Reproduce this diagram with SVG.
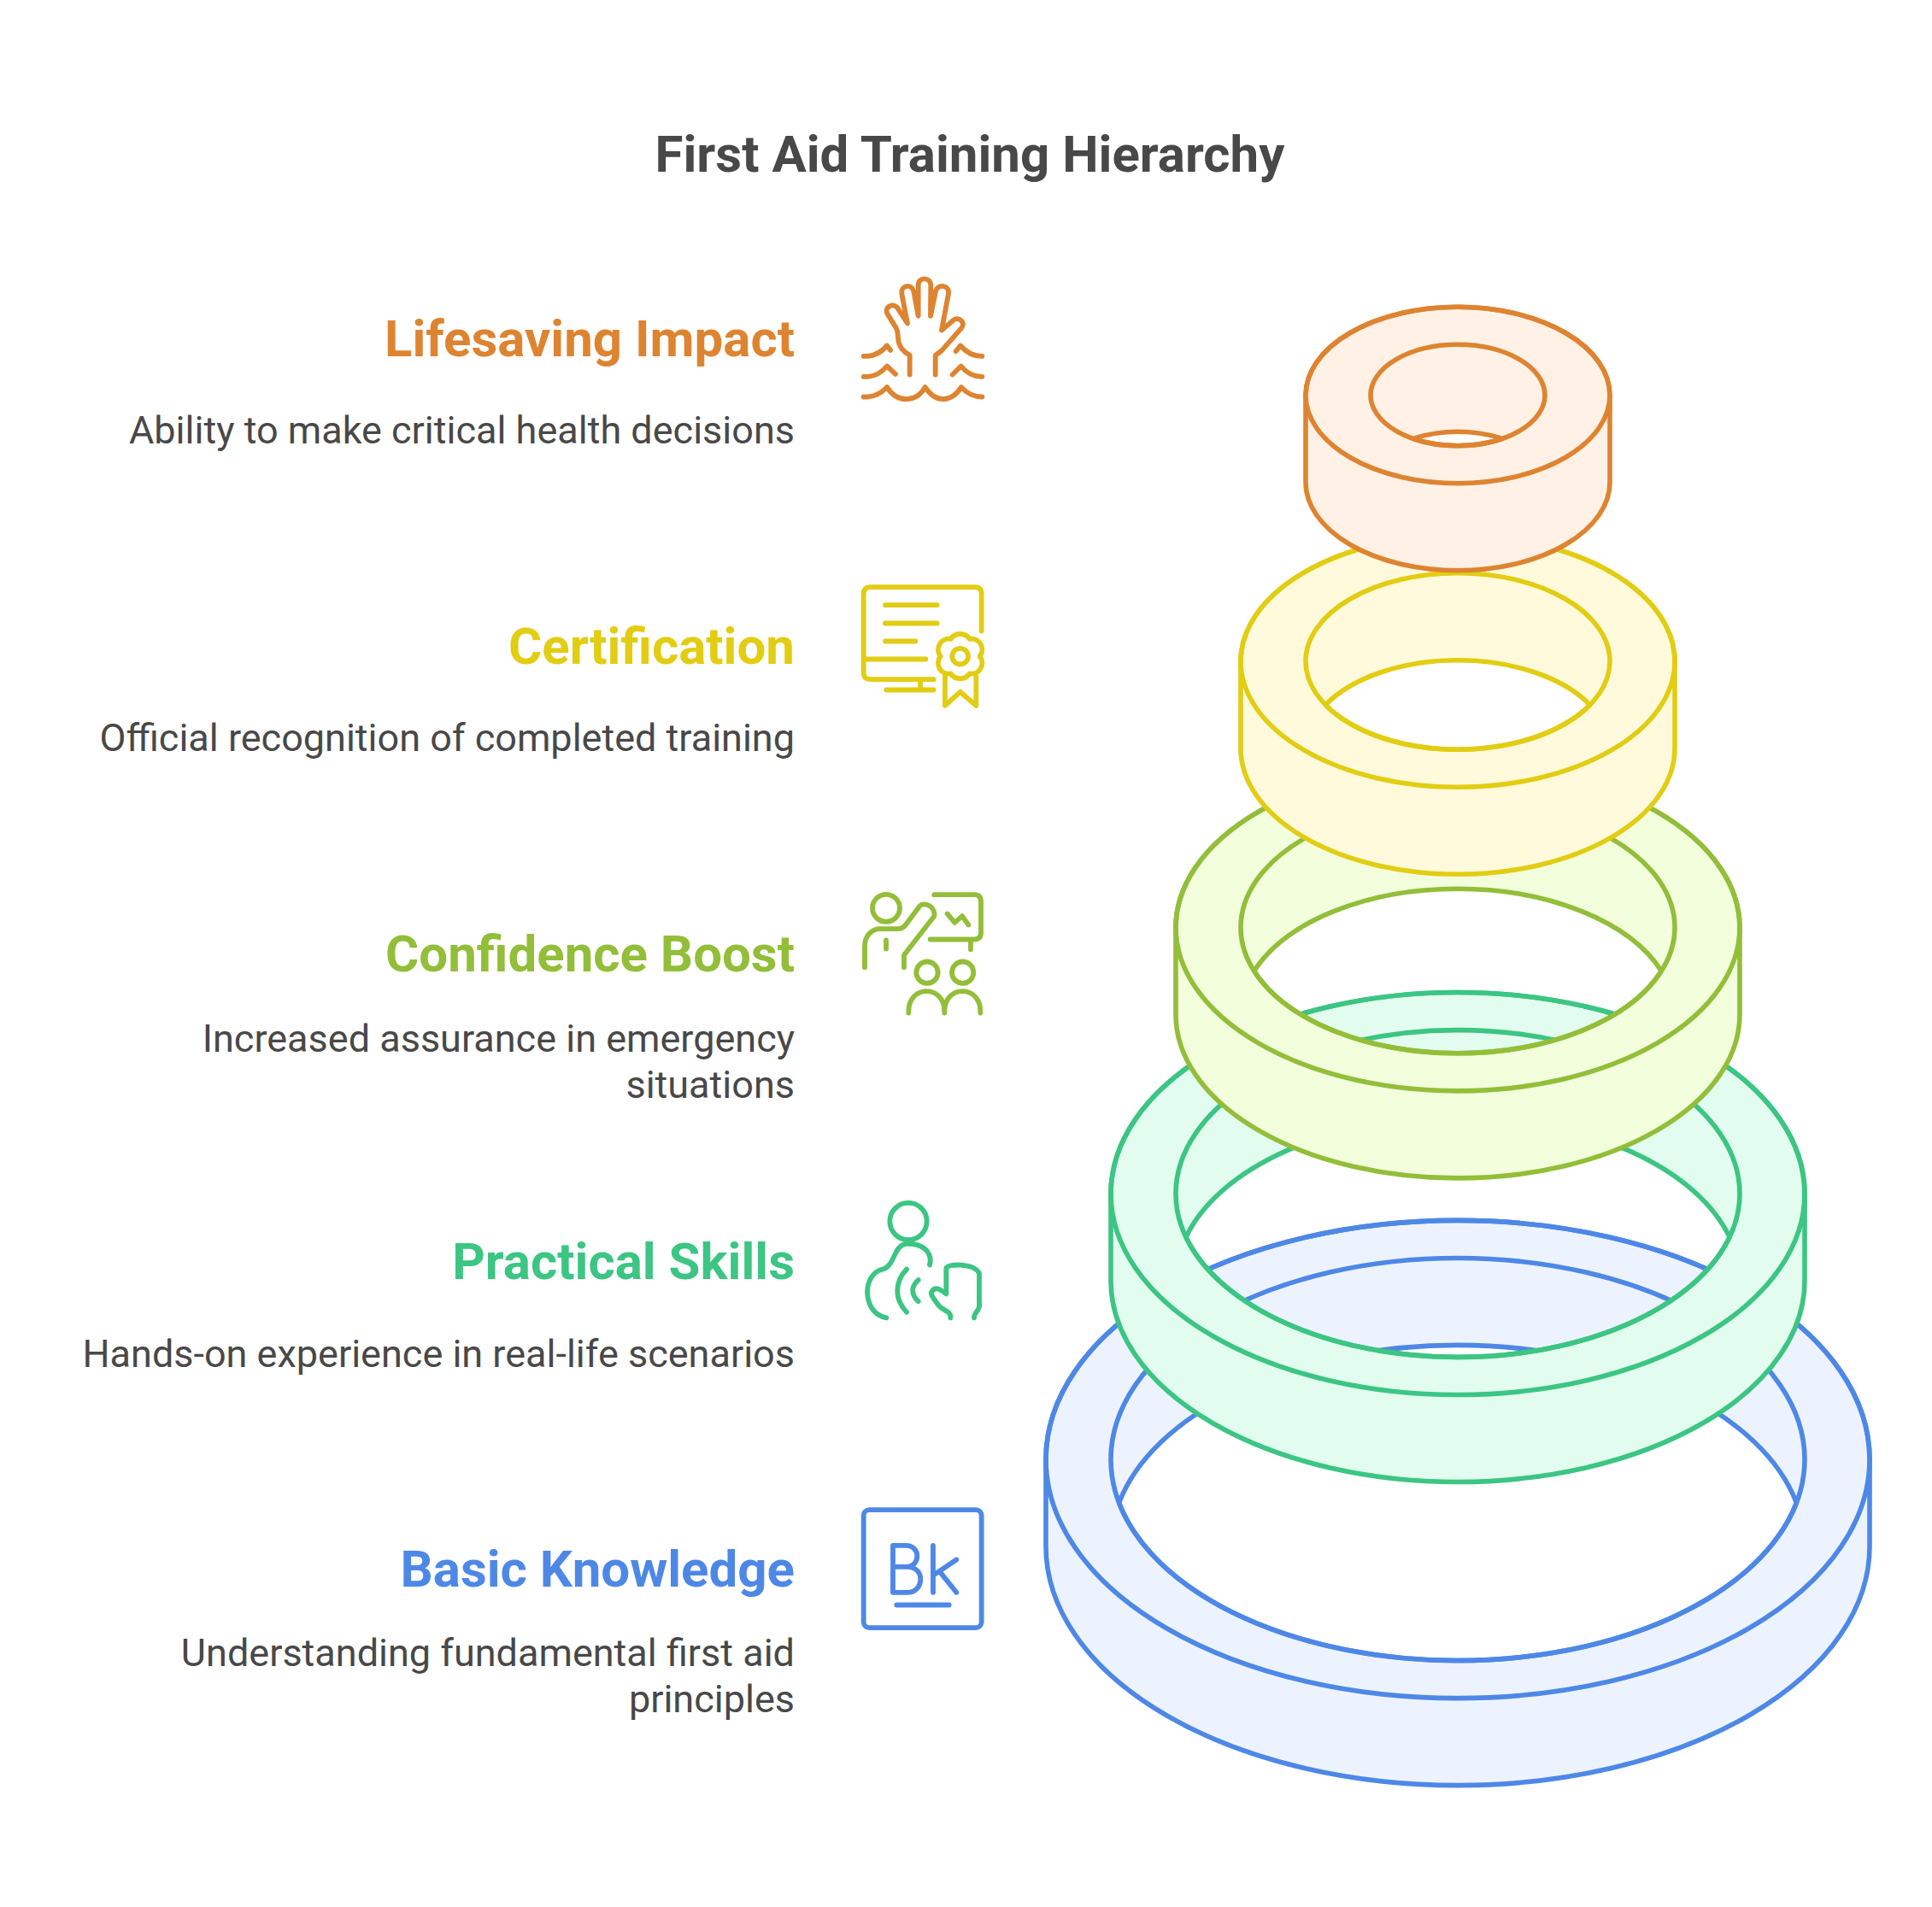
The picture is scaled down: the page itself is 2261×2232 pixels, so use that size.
<svg xmlns="http://www.w3.org/2000/svg" width="2261" height="2232" viewBox="0 0 2261 2232">
<style>
text{font-family:Roboto,"Liberation Sans",sans-serif;text-anchor:end}
.title{font-size:60px;font-weight:700;fill:#484848;text-anchor:middle}
.head{font-size:60px;font-weight:700}
.body{font-size:45px;fill:#484848}
.ring path,.ring ellipse{stroke-width:5.6;stroke-linejoin:round}
.ring ellipse{fill:none}
.ring .solid{fill-rule:evenodd}
.icon{fill:none;stroke-width:17.5;stroke-linecap:round;stroke-linejoin:round}
.blue{fill:#4E88E7}.green{fill:#3CC583}.lime{fill:#93BE39}.yellow{fill:#E2CD13}.orange{fill:#DE8431}
.s-blue{stroke:#4E88E7}.s-green{stroke:#3CC583}.s-lime{stroke:#93BE39}.s-yellow{stroke:#E2CD13}.s-orange{stroke:#DE8431}
</style>
<rect width="2261" height="2232" fill="#ffffff"/>
<text class="title" x="1135" y="201">First Aid Training Hierarchy</text>

<g id="basic-knowledge">
<g class="ring s-blue">
<path class="solid" fill="#EDF3FE" d="M1224 1708V1810A482 279.600 0 0 0 2188 1810V1708A482 279.600 0 0 0 1224 1708ZM1309.600 1759A406 235.500 0 0 1 2102.400 1759A406 235.500 0 0 1 1309.600 1759Z"/>
<ellipse cx="1706" cy="1708" rx="482" ry="279.600"/>
<ellipse cx="1706" cy="1708" rx="406" ry="235.500"/>
</g>
<text class="head blue" x="930" y="1856.500">Basic Knowledge</text>
<text class="body" x="930" y="1950">Understanding fundamental first aid</text>
<text class="body" x="930" y="2004">principles</text>
<g class="icon s-blue" transform="translate(980 1740.500) scale(.3333)">
<rect x="92" y="80" width="414" height="414" rx="20"/>
<path d="M195 205V370H245C305 370 310 280 245 280H195M245 280C290 280 295 205 240 205H195M336 205V370M336 310L418 255M358 295L418 370M208 414H392"/>
</g>
</g>

<g id="practical-skills">
<g class="ring s-green">
<path class="solid" fill="#E2FDEF" d="M1300 1397V1499A406 235.500 0 0 0 2112 1499V1397A406 235.500 0 0 0 1300 1397ZM1387.900 1448A330 191.400 0 0 1 2024.100 1448A330 191.400 0 0 1 1387.900 1448Z"/>
<ellipse cx="1706" cy="1397" rx="406" ry="235.500"/>
<ellipse cx="1706" cy="1397" rx="330" ry="191.400"/>
</g>
<text class="head green" x="930" y="1496.500">Practical Skills</text>
<text class="body" x="930" y="1599.500">Hands-on experience in real-life scenarios</text>
<g class="icon s-green" transform="translate(980 1390.500) scale(.3333)">
<circle cx="249" cy="117" r="65"/>
<path d="M324 270C335 225 300 195 245 195C195 200 205 270 160 285C85 300 85 440 172 456M243 285C200 330 200 390 243 436M284 323C258 345 258 375 284 398M397 456C400 430 370 432 355 412C345 395 322 375 332 362C345 345 360 355 382 372V282C382 265 480 262 498 300V415C498 430 478 440 480 456"/>
</g>
</g>

<g id="confidence-boost">
<g class="ring s-lime">
<path class="solid" fill="#F2FEDC" d="M1376 1085.500V1187.500A330 191.400 0 0 0 2036 1187.500V1085.500A330 191.400 0 0 0 1376 1085.500ZM1467.700 1136.500A254 147.300 0 0 1 1944.300 1136.500A254 147.300 0 0 1 1467.700 1136.500Z"/>
<ellipse cx="1706" cy="1085.500" rx="330" ry="191.400"/>
<ellipse cx="1706" cy="1085.500" rx="254" ry="147.300"/>
</g>
<text class="head lime" x="930" y="1136.500">Confidence Boost</text>
<text class="body" x="930" y="1231">Increased assurance in emergency</text>
<text class="body" x="930" y="1285">situations</text>
<g class="icon s-lime" transform="translate(980 1020.500) scale(.3333)">
<circle cx="171" cy="127" r="48"/>
<circle cx="315" cy="353" r="38"/>
<circle cx="440" cy="353" r="38"/>
<path d="M96 335V260C96 225 120 200 150 200H215Q228 200 238 188L285 125C300 100 345 120 340 155L234 292V335M171 240V270M340 80H480Q504 80 504 104V214Q504 237 480 237H326M468 237V272M386 147L412 178L438 155L460 186M250 495V490C250 395 376 395 376 490V495M376 490C376 395 502 395 502 490V495"/>
</g>
</g>

<g id="certification">
<g class="ring s-yellow">
<path class="solid" fill="#FFFADC" d="M1452 774V876A254 147.300 0 0 0 1960 876V774A254 147.300 0 0 0 1452 774ZM1551.200 825A178 103.200 0 0 1 1860.800 825A178 103.200 0 0 1 1551.200 825Z"/>
<ellipse cx="1706" cy="774" rx="254" ry="147.300"/>
<ellipse cx="1706" cy="774" rx="178" ry="103.200"/>
</g>
<text class="head yellow" x="930" y="776.500">Certification</text>
<text class="body" x="930" y="879">Official recognition of completed training</text>
<g class="icon s-yellow" transform="translate(980 660.500) scale(.3333)">
<path d="M506 234V104Q506 80 482 80H116Q92 80 92 104V380Q92 404 116 404H338M168 143H350M168 207H350M168 270H274M92 333H310M172 441H338M291 404V441"/>
<path d="M398 262A40 40 0 0 1 464 262A38 38 0 0 1 500 323A38 38 0 0 1 464 384A40 40 0 0 1 398 384A38 38 0 0 1 362 323A38 38 0 0 1 398 262Z"/>
<circle cx="431" cy="323" r="28"/>
<path d="M378 392V496L431 448L487 496V392"/>
</g>
</g>

<g id="lifesaving-impact">
<g class="ring s-orange">
<path class="solid" fill="#FFF1E5" d="M1528 462.500V564.500A178 103.200 0 0 0 1884 564.500V462.500A178 103.200 0 0 0 1528 462.500ZM1654.200 513.500A102 59.200 0 0 1 1757.800 513.500A102 59.200 0 0 1 1654.200 513.500Z"/>
<ellipse cx="1706" cy="462.500" rx="178" ry="103.200"/>
<ellipse cx="1706" cy="462.500" rx="102" ry="59.200"/>
</g>
<text class="head orange" x="930" y="416.500">Lifesaving Impact</text>
<text class="body" x="930" y="519">Ability to make critical health decisions</text>
<g class="icon s-orange" transform="translate(980 300.500) scale(.3333)">
<path d="M92 492Q140 495 174 458Q200 500 242 500Q285 500 308 458Q335 500 372 500Q410 498 435 458Q465 492 508 492M92 421Q140 425 174 384L204 412M404 414L434 384Q465 422 508 421M92 349Q140 352 174 312L186 328M416 332L432 312Q465 350 508 349"/>
<path d="M254 414V346C235 335 215 320 213 285C212 265 210 255 205 248L175 200C165 180 190 160 210 178L246 234L226 130C222 100 260 92 268 122L284 208V100C284 70 326 70 328 100L327 208L345 122C352 92 395 100 390 130L366 258L408 222C425 208 452 232 436 250L370 325C362 335 352 340 344 346V414"/>
</g>
</g>
</svg>
